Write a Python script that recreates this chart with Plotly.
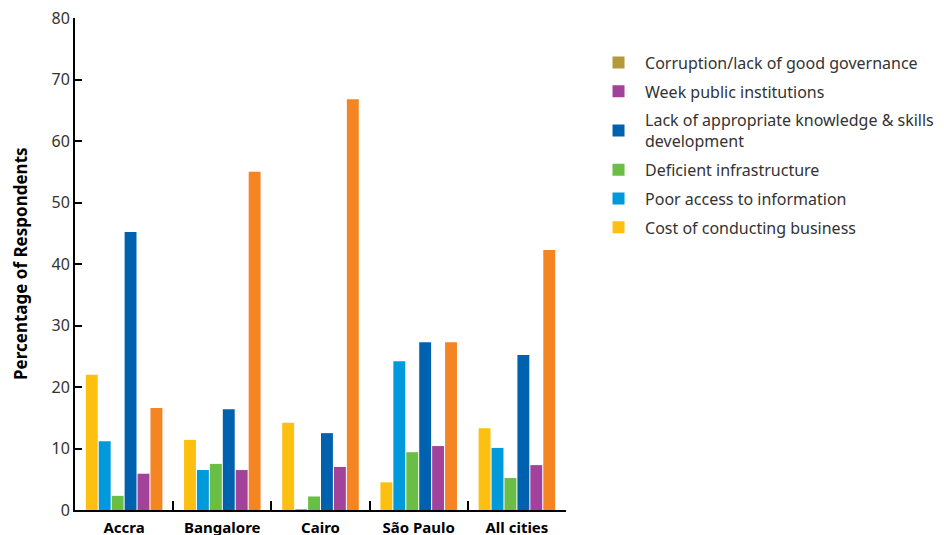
import plotly.graph_objects as go

cities = ["Accra", "Bangalore", "Cairo", "São Paulo", "All cities"]
cost_business = [22.0, 11.4, 14.2, 4.5, 13.3]
poor_information = [11.2, 6.5, 0.0, 24.2, 10.1]
deficient_infra = [2.3, 7.5, 2.2, 9.4, 5.2]
lack_knowledge = [45.2, 16.4, 12.5, 27.3, 25.2]
weak_institutions = [5.9, 6.5, 7.0, 10.4, 7.3]
corruption = [16.6, 55.0, 66.8, 27.3, 42.3]
y_ticks = [0, 10, 20, 30, 40, 50, 60, 70, 80]

series = [
    ("Cost of conducting business", cost_business, "#FDC010"),
    ("Poor access to information", poor_information, "#0099DB"),
    ("Deficient infrastructure", deficient_infra, "#6ABD45"),
    ("Lack of appropriate knowledge & skills<br>development", lack_knowledge, "#0061AF"),
    ("Week public institutions", weak_institutions, "#A2429A"),
]

fig = go.Figure()
for i, (name, vals, col) in enumerate(series):
    fig.add_trace(go.Bar(
        x=cities, y=vals, name=name, marker_color=col,
        marker_line_width=[1.5 if v == 0 else 0 for v in vals],
        marker_line_color=["#888888" if v == 0 else col for v in vals],
        legendgroup=f"g{i}", legendrank=100 - i))
# corruption bars (orange); its legend swatch is olive in the reference
fig.add_trace(go.Bar(x=cities, y=corruption, name="Corruption/lack of good governance",
                     marker_color="#F58423", marker_line_width=0, showlegend=False,
                     legendgroup="g5", legendrank=50))
fig.add_trace(go.Bar(x=[cities[0]], y=[None], name="Corruption/lack of good governance",
                     marker_color="#B3983C", marker_line_width=0, showlegend=True,
                     legendgroup="g6", legendrank=1, xaxis="x2", hoverinfo="skip"))

font_family = "Noto Sans, Open Sans, sans-serif"
fig.update_layout(
    width=944, height=535,
    margin=dict(l=67, r=386, t=10, b=33),
    plot_bgcolor="white", paper_bgcolor="white",
    barmode="group", bargap=0.21, bargroupgap=0.08,
    font=dict(family=font_family, size=15, color="#333333"),
    legend=dict(traceorder="grouped", x=1.053, xanchor="left", y=0.944, yanchor="top",
                font=dict(size=16, color="#333333"), itemwidth=43,
                tracegroupgap=5, bgcolor="rgba(0,0,0,0)"),
    showlegend=True,
    xaxis2=dict(overlaying="x", visible=False),
    annotations=[dict(text="<b>Percentage of Respondents</b>", textangle=-90,
                      xref="paper", yref="paper", x=(20 - 75) / 491, y=0.5,
                      xanchor="center", yanchor="middle", showarrow=False,
                      font=dict(size=17, color="black"))],
)
fig.update_layout(xaxis=dict(
    showline=True, linecolor="black", linewidth=2,
    ticks="inside", tickson="boundaries", ticklen=9, tickwidth=2,
    tickcolor="black", automargin=False, ticklabelstandoff=3,
    tickfont=dict(family=font_family, size=15, color="black", weight="bold"),
    showgrid=False))
fig.update_yaxes(range=[0, 80.02], tickvals=y_ticks,
                 showline=True, linecolor="black", linewidth=2,
                 ticks="inside", ticklen=7, tickwidth=2, tickcolor="black",
                 showgrid=False, zeroline=False, automargin=False,
                 ticklabeloverflow="allow",
                 tickfont=dict(size=16, color="#333333"))

fig.write_html("out.html")
